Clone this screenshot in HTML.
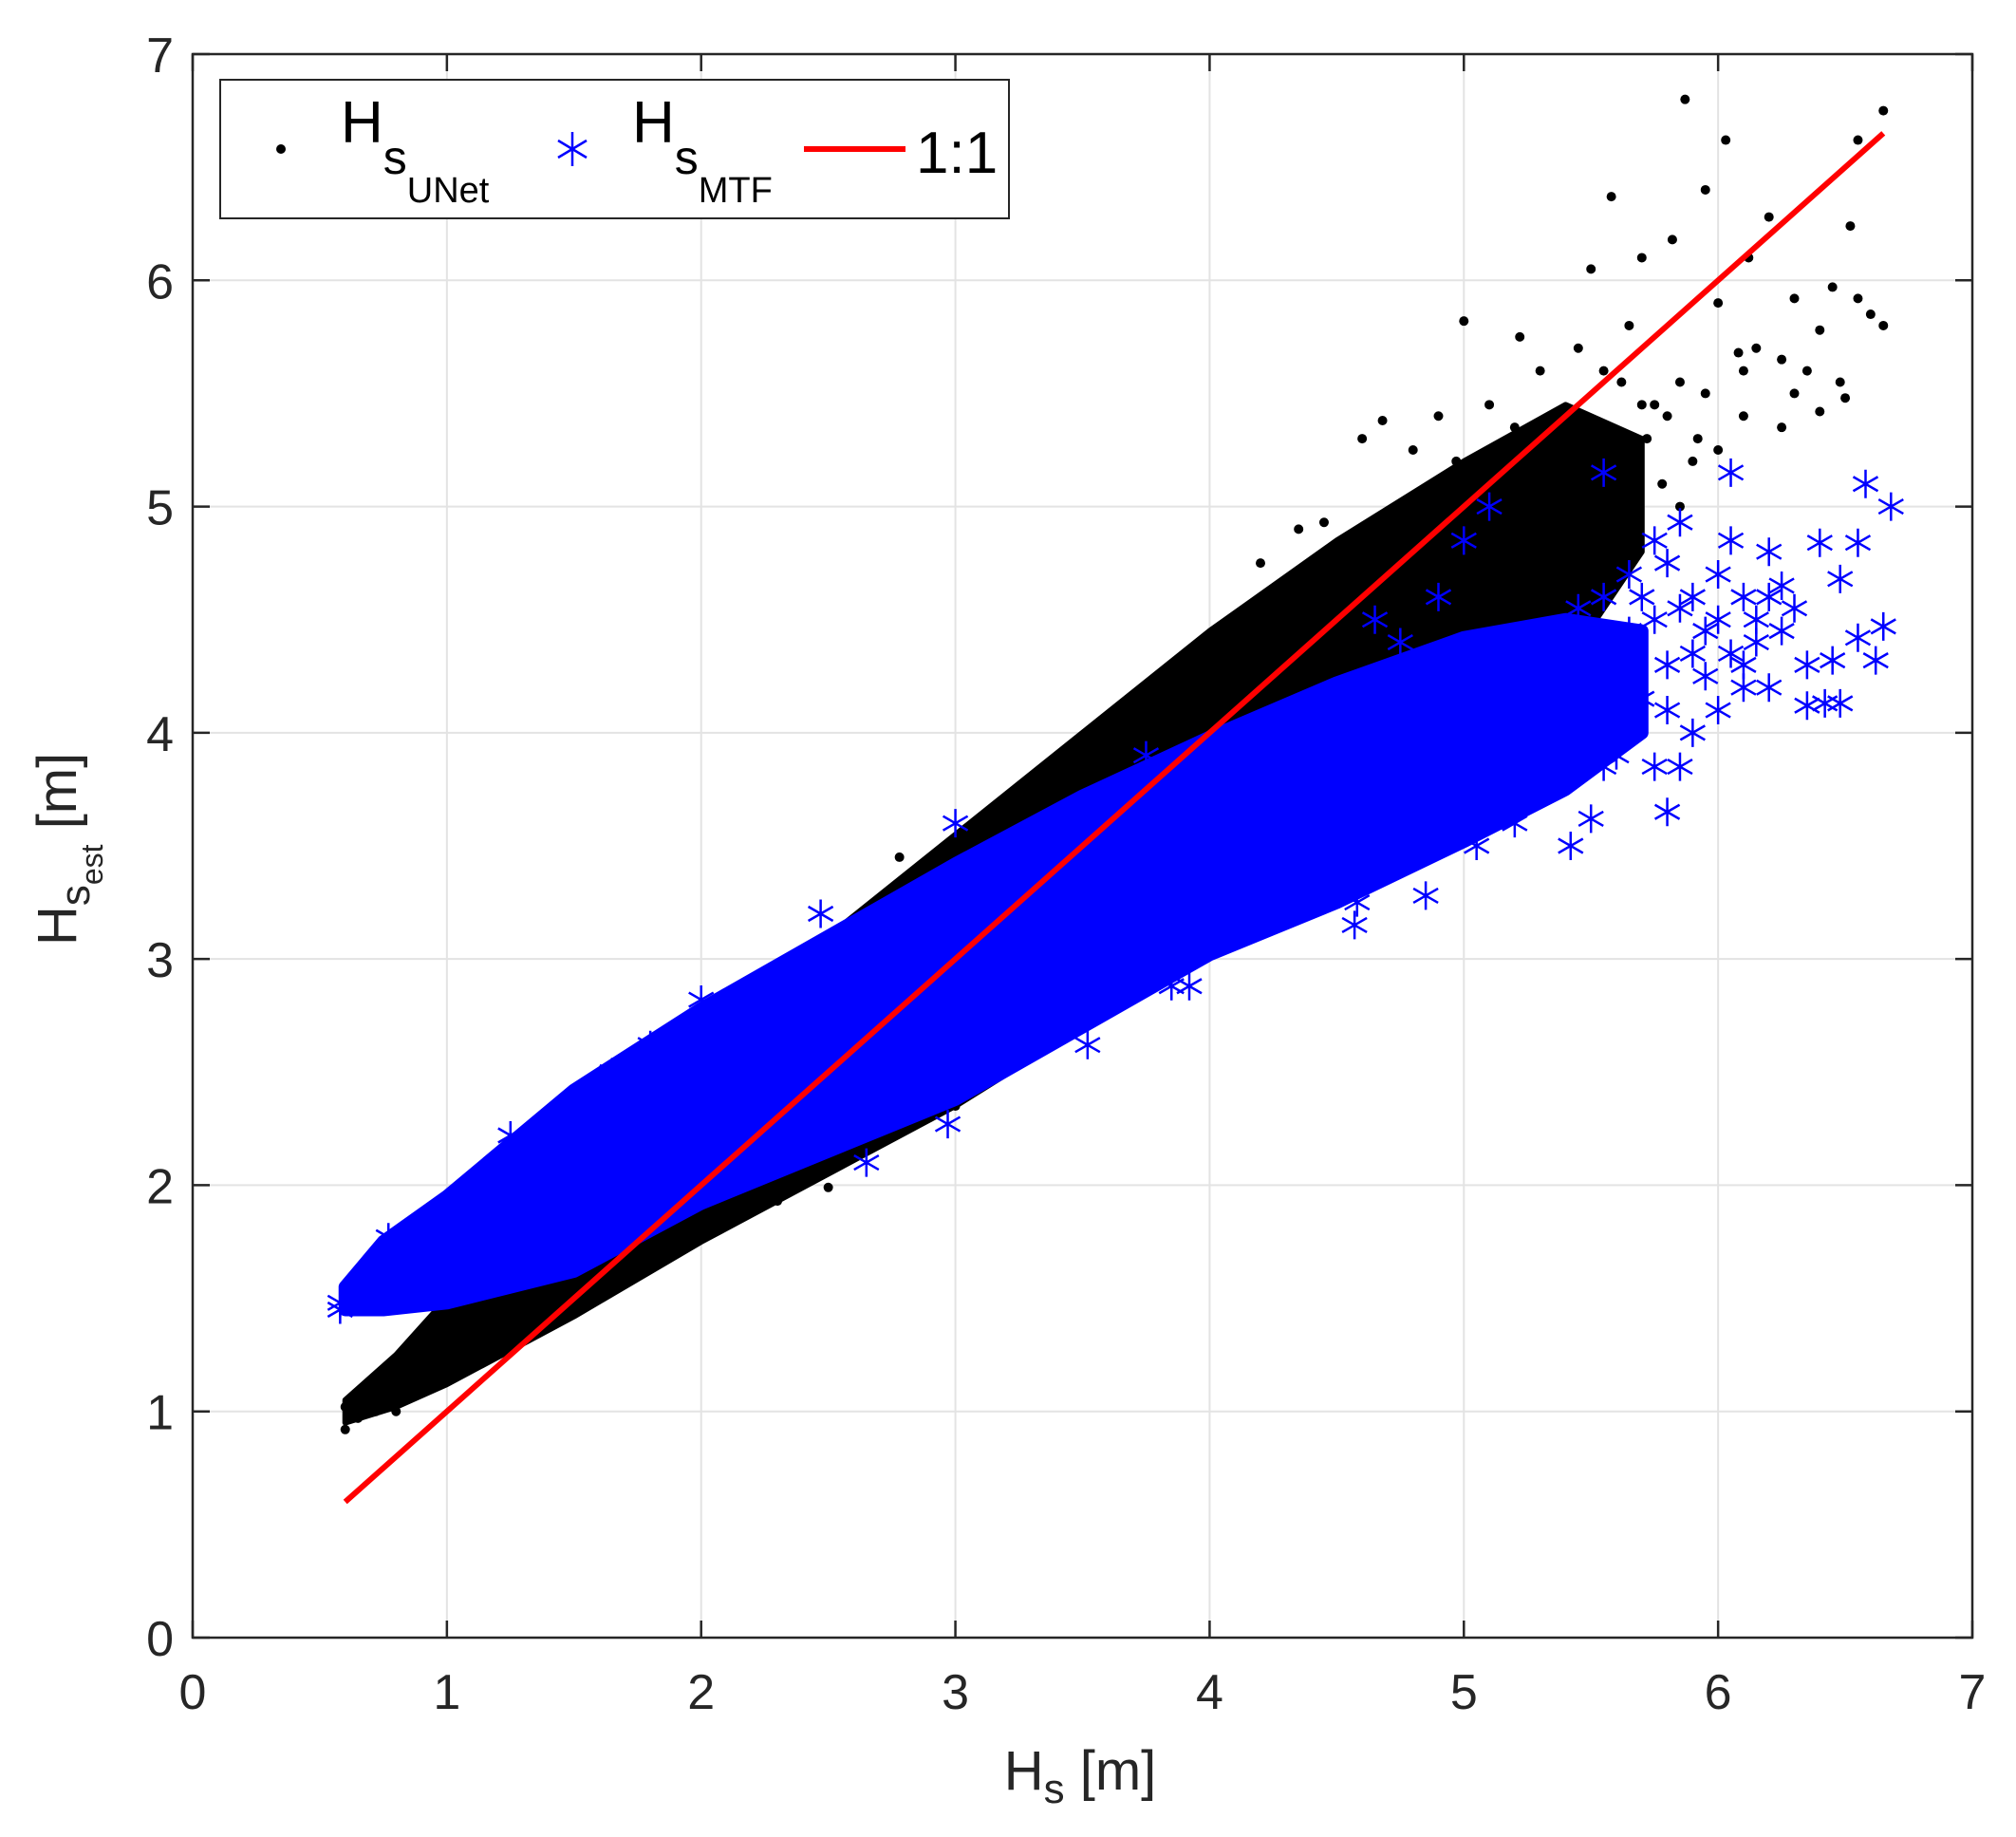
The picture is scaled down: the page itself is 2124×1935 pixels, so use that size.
<!DOCTYPE html>
<html><head><meta charset="utf-8"><style>
html,body{margin:0;padding:0;background:#fff;}
svg{display:block;font-family:"Liberation Sans",Arial,sans-serif;}
</style></head><body>
<svg id="chart" width="2124" height="1935" viewBox="0 0 2124 1935" xmlns="http://www.w3.org/2000/svg">
<rect x="0" y="0" width="2124" height="1935" fill="#fff"/>
<g id="grid"></g>
<g id="data"></g>
<g id="axes"></g>
<text x="1138" y="1885" font-size="58" text-anchor="middle" fill="#262626">H<tspan font-size="44" dy="14">s</tspan><tspan dy="-14"> [m]</tspan></text>
<text transform="translate(80,996) rotate(-90)" font-size="58" fill="#262626">H<tspan font-size="44" dy="14">s</tspan><tspan font-size="32" dy="14">est</tspan><tspan dy="-28"> [m]</tspan></text>
<g>
<rect x="232" y="84" width="831" height="146" fill="#fff" stroke="#262626" stroke-width="2"/>
<circle cx="296" cy="157" r="5" fill="#000"/>
<text x="359" y="150" font-size="62" fill="#000">H<tspan font-size="50" dy="33">s</tspan><tspan font-size="38" dy="30">UNet</tspan></text>
<g stroke="#0000ff" stroke-width="2.5"><line x1="603" y1="139" x2="603" y2="175"/><line x1="588" y1="148" x2="618" y2="166"/><line x1="588" y1="166" x2="618" y2="148"/></g>
<text x="666" y="150" font-size="62" fill="#000">H<tspan font-size="50" dy="33">s</tspan><tspan font-size="38" dy="30">MTF</tspan></text>
<line x1="847" y1="157" x2="954" y2="157" stroke="#ff0000" stroke-width="6"/>
<text x="965" y="182" font-size="62" fill="#000">1:1</text>
</g>
</svg>
<script>
const ticks=[0,1,2,3,4,5,6,7];
const tickLabels=["0","1","2","3","4","5","6","7"];
// black (UNet) dense-cloud envelope
const unetEnvX=[0.6,0.8,1.0,1.5,2.0,2.5,3.0,3.5,4.0,4.5,5.0,5.4,5.7];
const unetEnvLo=[0.95,1.02,1.12,1.42,1.75,2.05,2.35,2.7,3.05,3.45,3.85,4.3,4.8];
const unetEnvHi=[1.05,1.25,1.5,2.1,2.65,3.1,3.55,4.0,4.45,4.85,5.2,5.45,5.3];
// blue (MTF) dense-cloud envelope
const mtfEnvX=[0.6,0.75,1.0,1.5,2.0,2.5,3.0,3.5,4.0,4.5,5.0,5.4,5.7];
const mtfEnvLo=[1.45,1.45,1.48,1.62,1.92,2.15,2.38,2.7,3.02,3.25,3.52,3.75,4.0];
const mtfEnvHi=[1.55,1.75,1.95,2.42,2.78,3.1,3.42,3.72,3.98,4.22,4.42,4.5,4.45];
const unetX=[5.87,6.65,6.55,6.03,5.58,5.95,6.2,6.12,6.52,5.82,5.7,5.5,6.45,6.55,6.65,6.6,6.3,6.4,6.25,6.48,6.5,6.35,6.08,5.95,6.1,6.25,6.4,5.92,5.0,5.22,5.3,5.62,4.68,4.6,4.97,3.35,3.52,4.45,2.78,5.78,5.85,5.72,5.5,5.4,5.35,5.6,0.6,0.6,0.65,0.72,0.8,0.85,0.9,2.5,2.3,2.9,3.0,2.75,5.45,5.65,5.8,5.9,6.0,5.3,5.55,5.75,6.15,6.3,4.2,4.35,4.8,4.9,5.1,5.2,5.45,5.7,5.85,6.0,6.1];
const unetY=[6.8,6.75,6.62,6.62,6.37,6.4,6.28,6.1,6.24,6.18,6.1,6.05,5.97,5.92,5.8,5.85,5.92,5.78,5.65,5.55,5.48,5.6,5.68,5.5,5.4,5.35,5.42,5.3,5.82,5.75,5.6,5.55,5.38,5.3,5.2,3.85,3.8,4.93,3.45,5.1,5.0,5.3,5.25,5.4,5.0,4.95,0.92,1.02,0.97,1.0,1.0,1.1,1.15,1.99,1.93,2.3,2.35,2.45,5.7,5.8,5.4,5.2,5.9,5.15,5.6,5.45,5.7,5.5,4.75,4.9,5.25,5.4,5.45,5.35,5.2,5.45,5.55,5.25,5.6];
const mtfX=[6.58,6.68,6.05,6.55,6.48,6.4,6.2,6.05,5.85,6.3,6.65,6.55,6.62,6.45,6.35,6.42,6.35,6.48,6.2,6.15,5.9,5.85,5.8,5.75,5.6,5.55,5.5,5.42,4.85,4.57,4.58,3.85,3.92,3.52,2.97,2.65,5.1,5.0,5.55,5.75,6.0,6.25,6.1,5.95,5.8,6.0,0.58,0.58,0.77,0.95,1.25,1.4,1.65,1.8,2.0,2.47,3.0,3.75,5.15,5.3,5.45,5.65,5.7,5.5,5.35,5.2,5.05,5.6,5.9,6.1,5.4,5.25,5.65,5.75,5.8,5.9,6.0,6.05,6.15,6.2,6.25,5.7,5.6,5.8,5.95,6.1,5.5,5.55,5.85,5.65,4.9,4.75,4.65];
const mtfY=[5.1,5.0,5.15,4.84,4.68,4.84,4.8,4.85,4.93,4.55,4.47,4.42,4.32,4.32,4.3,4.13,4.12,4.13,4.2,4.4,4.0,3.85,3.65,3.85,3.9,3.85,3.62,3.5,3.28,3.15,3.25,2.88,2.88,2.62,2.27,2.1,5.0,4.85,5.15,4.85,4.5,4.65,4.6,4.25,4.1,4.1,1.45,1.48,1.77,1.87,2.22,2.25,2.5,2.62,2.82,3.2,3.6,3.9,3.95,4.3,4.55,4.45,4.6,4.2,3.8,3.6,3.5,4.2,4.35,4.3,4.4,4.0,4.7,4.5,4.3,4.6,4.7,4.35,4.5,4.6,4.45,4.15,4.0,4.75,4.45,4.2,4.4,4.6,4.55,4.3,4.6,4.4,4.5];
const lineX=[0.6,6.65];
const lineY=[0.6,6.65];

const NS='http://www.w3.org/2000/svg';
const L=203,R=2078,T=57,B=1725;
const sx=v=>L+(R-L)*v/7, sy=v=>B-(B-T)*v/7;
function mk(tag,attrs,parent){const e=document.createElementNS(NS,tag);for(const k in attrs)e.setAttribute(k,attrs[k]);parent.appendChild(e);return e;}
const grid=document.getElementById('grid'),data=document.getElementById('data'),axes=document.getElementById('axes');
ticks.forEach((t,i)=>{
  if(t>0&&t<7){
    const gx=mk('line',{x1:sx(t),x2:sx(t),y1:T,y2:B,stroke:'#e3e3e3','stroke-width':2},grid);
    
    
    const gy=mk('line',{x1:L,x2:R,y1:sy(t),y2:sy(t),stroke:'#e3e3e3','stroke-width':2},grid);
    
    
  }
  const xl=mk('text',{x:sx(t),y:B+75,'font-size':52,'text-anchor':'middle',fill:'#262626'},axes);xl.textContent=tickLabels[i];
  
  
  const yl=mk('text',{x:L-20,y:sy(t)+19,'font-size':52,'text-anchor':'end',fill:'#262626'},axes);yl.textContent=tickLabels[i];
  
  
  const tk=mk('path',{d:`M${sx(t)},${B}v-18M${sx(t)},${T}v18M${L},${sy(t)}h18M${R},${sy(t)}h-18`,stroke:'#262626','stroke-width':2.5,fill:'none'},axes);
  
  
});
const frame=mk('rect',{x:L,y:T,width:R-L,height:B-T,fill:'none',stroke:'#262626','stroke-width':2.5},axes);


function band(xs,lo,hi,color,sw){
  let d='M'+xs.map((x,i)=>sx(x)+','+sy(hi[i])).join('L');
  for(let i=xs.length-1;i>=0;i--)d+='L'+sx(xs[i])+','+sy(lo[i]);
  return mk('path',{d:d+'Z',fill:color,stroke:color,'stroke-width':sw,'stroke-linejoin':'round'},data);
}
const ub=band(unetEnvX,unetEnvLo,unetEnvHi,'#000',6);


unetX.forEach((x,i)=>{
  const c=mk('circle',{cx:sx(x),cy:sy(unetY[i]),r:5,fill:'#000'},data);
  
  
});
const mb=band(mtfEnvX,mtfEnvLo,mtfEnvHi,'#0000ff',14);


function star(x,y){
  const X=sx(x),Y=sy(y),r=15;
  return mk('path',{d:`M${X},${Y-r}V${Y+r}M${X-13},${Y-7.5}L${X+13},${Y+7.5}M${X-13},${Y+7.5}L${X+13},${Y-7.5}`,stroke:'#0000ff','stroke-width':2.5,fill:'none'},data);
}
mtfX.forEach((x,i)=>{
  const s=star(x,mtfY[i]);
  
  
});
const ln=mk('line',{x1:sx(lineX[0]),y1:sy(lineY[0]),x2:sx(lineX[1]),y2:sy(lineY[1]),stroke:'#ff0000','stroke-width':6},data);


</script>
</body></html>
